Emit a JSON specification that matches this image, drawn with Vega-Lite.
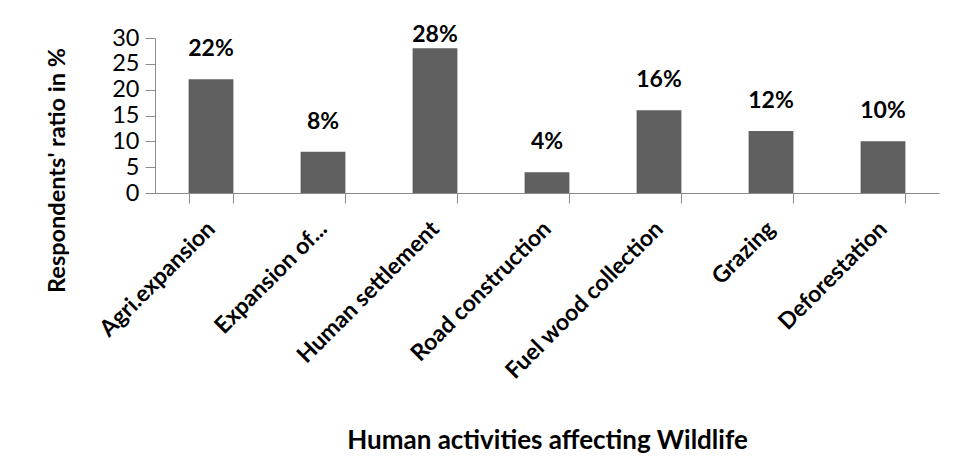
{
  "$schema": "https://vega.github.io/schema/vega-lite/v6.json",
  "autosize": "none",
  "width": 784,
  "height": 155,
  "padding": {"left": 155, "top": 38, "right": 19, "bottom": 281},
  "background": "white",
  "config": {
    "font": "Lato",
    "view": {"stroke": null},
    "axis": {"grid": false, "domainColor": "#8c8c8c", "tickColor": "#8c8c8c", "labelColor": "#000000", "titleColor": "#000000", "labelFont": "Lato", "titleFont": "Lato"}
  },
  "data": {
    "values": [
      {"activity": "Agri.expansion", "ratio": 22, "label": "22%"},
      {"activity": "Expansion of...", "ratio": 8, "label": "8%"},
      {"activity": "Human settlement", "ratio": 28, "label": "28%"},
      {"activity": "Road construction", "ratio": 4, "label": "4%"},
      {"activity": "Fuel wood collection", "ratio": 16, "label": "16%"},
      {"activity": "Grazing", "ratio": 12, "label": "12%"},
      {"activity": "Deforestation", "ratio": 10, "label": "10%"}
    ]
  },
  "encoding": {
    "x": {
      "field": "activity", "type": "nominal", "sort": null,
      "scale": {"paddingInner": 0.6, "paddingOuter": 0.3},
      "axis": {
        "title": "Human activities affecting Wildlife",
        "titleFontSize": 26, "titleFontWeight": "bold",
        "titleX": 392, "titleY": 247, "titleBaseline": "middle",
        "labelAngle": -45, "labelAlign": "right", "labelBaseline": "middle",
        "labelFontSize": 23, "labelFontWeight": "bold", "labelPadding": 22,
        "labelLimit": 400, "labelOverlap": false, "labelBound": false,
        "tickBand": "extent", "tickSize": 10
      }
    },
    "y": {
      "field": "ratio", "type": "quantitative",
      "scale": {"domain": [0, 30], "nice": false},
      "axis": {
        "title": "Respondents' ratio in %",
        "titleFontSize": 23.5, "titleFontWeight": "bold",
        "titleX": -98, "titleY": 132, "titleBaseline": "middle", "titleAlign": "center",
        "values": [0, 5, 10, 15, 20, 25, 30],
        "labelFontSize": 23.5, "labelPadding": 6, "tickSize": 10
      }
    }
  },
  "layer": [
    {"mark": {"type": "bar", "color": "#606060"}},
    {
      "transform": [{"filter": "datum.ratio < 25"}],
      "mark": {"type": "text", "dy": -30, "fontSize": 23, "fontWeight": "bold", "color": "#000000", "baseline": "middle"},
      "encoding": {"text": {"field": "label"}}
    },
    {
      "transform": [{"filter": "datum.ratio >= 25"}],
      "mark": {"type": "text", "dy": -13, "fontSize": 23, "fontWeight": "bold", "color": "#000000", "baseline": "middle"},
      "encoding": {"text": {"field": "label"}}
    }
  ]
}
